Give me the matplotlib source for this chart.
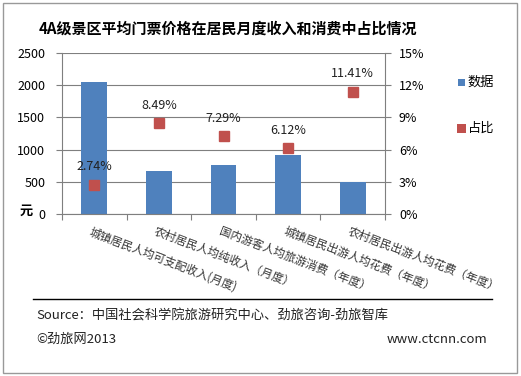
import matplotlib
matplotlib.use("Agg")
import matplotlib.pyplot as plt
from matplotlib.patches import Rectangle
from matplotlib.lines import Line2D

plt.rcParams['font.family'] = ['Noto Sans CJK SC', 'DejaVu Sans']

categories = ["城镇居民人均可支配收入(月度)", "农村居民人均纯收入（月度）", "国内游客人均旅游消费（年度）",
              "城镇居民出游人均花费（年度）", "农村居民出游人均花费（年度）"]
values = [2047, 660, 768, 915, 491]
shares = [2.74, 8.49, 7.29, 6.12, 11.41]
left_ticks = [0, 500, 1000, 1500, 2000, 2500]
right_ticks = [0, 3, 6, 9, 12, 15]

blue = "#4F81BD"
red = "#C0504D"

fig = plt.figure(figsize=(5.21, 3.76), dpi=100)
fig.patch.set_facecolor("white")
fig.add_artist(Rectangle((0.006, 0.008), 0.986, 0.985, transform=fig.transFigure,
                         fill=False, edgecolor="#999999", lw=1.0))

ax = fig.add_axes([0.119, 0.431, 0.620, 0.428])
x = list(range(len(categories)))
ax.bar(x, values, width=0.4, color=blue, zorder=2)
ax.set_xlim(-0.5, len(categories) - 0.5)
ax.set_ylim(0, 2500)
ax.set_yticks(left_ticks)
ax.set_yticklabels([str(v) for v in left_ticks], fontsize=9)
ax.yaxis.grid(True, color="#7f7f7f", lw=0.8, zorder=0)
ax.set_axisbelow(True)
ax.set_xticks([i + 0.5 for i in x[:-1]] + [-0.5, len(categories) - 0.5])
ax.set_xticklabels([])
ax.tick_params(axis='x', direction='out', length=4, color="#7f7f7f")
ax.tick_params(axis='y', direction='out', length=4, color="#7f7f7f", pad=8)
ax.spines["top"].set_visible(False)
ax.spines["right"].set_visible(False)
for s in ["left", "bottom"]:
    ax.spines[s].set_color("#7f7f7f")

for i, c in enumerate(categories):
    ax.text(i - 0.03, -170, c, rotation=-21, rotation_mode='anchor', ha='left', va='top',
            fontsize=8.3, color="#333333")

ax2 = ax.twinx()
ax2.set_ylim(0, 15)
ax2.set_yticks(right_ticks)
ax2.set_yticklabels([f"{v}%" for v in right_ticks], fontsize=9)
ax2.tick_params(axis='y', direction='out', length=4, color="#7f7f7f", pad=6)
for s in ["top", "left", "bottom"]:
    ax2.spines[s].set_visible(False)
ax2.spines["right"].set_color("#7f7f7f")
ax2.plot(x, shares, linestyle='none', marker='s', markersize=6.5, color=red, zorder=3)
for i, v in enumerate(shares):
    ax2.annotate(f"{v:.2f}%", (i, v), textcoords='offset points', xytext=(0, 8),
                 ha='center', va='bottom', fontsize=9, color="#222222")

fig.text(0.438, 0.923, "4A级景区平均门票价格在居民月度收入和消费中占比情况", ha='center', va='center',
         fontsize=10.8, fontweight='bold')
fig.text(0.038, 0.44, "元", ha='left', va='center', fontsize=9.5, fontweight='bold')

# legend
fig.add_artist(Rectangle((0.879, 0.771), 0.013, 0.019, transform=fig.transFigure, color=blue, lw=0))
fig.text(0.898, 0.782, "数据", ha='left', va='center', fontsize=9.5)
fig.add_artist(Rectangle((0.877, 0.646), 0.017, 0.024, transform=fig.transFigure, color=red, lw=0))
fig.text(0.898, 0.660, "占比", ha='left', va='center', fontsize=9.5)

fig.add_artist(Line2D([0.064, 0.945], [0.205, 0.205], transform=fig.transFigure, color="black", lw=1))
fig.text(0.069, 0.16, "Source：中国社会科学院旅游研究中心、劲旅咨询-劲旅智库", ha='left', va='center',
         fontsize=9.5, color="#222222")
fig.text(0.069, 0.098, "©劲旅网2013", ha='left', va='center', fontsize=9.5, color="#222222")
fig.text(0.935, 0.098, "www.ctcnn.com", ha='right', va='center', fontsize=9.5, color="#222222")

fig.savefig("out.png", dpi=100, facecolor="white")
